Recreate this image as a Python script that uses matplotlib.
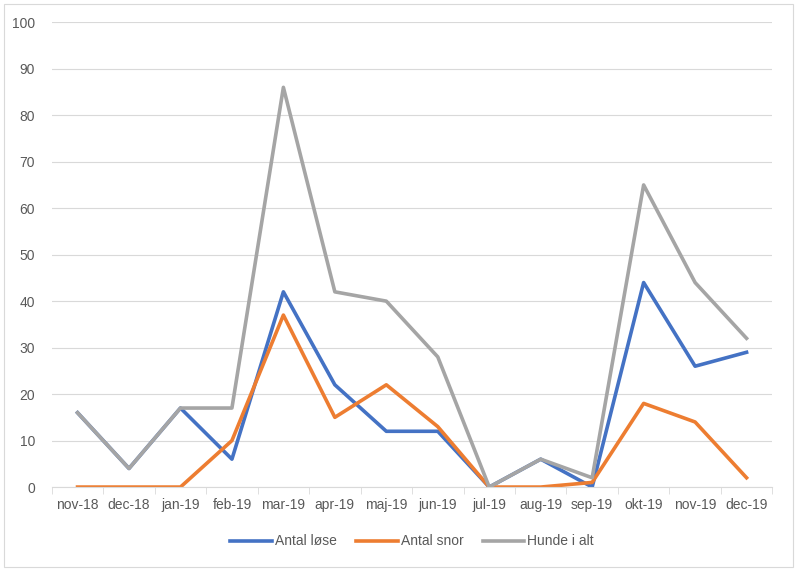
import numpy as np
import matplotlib.pyplot as plt

# Monthly counts
months = ["nov-18", "dec-18", "jan-19", "feb-19", "mar-19", "apr-19", "maj-19",
          "jun-19", "jul-19", "aug-19", "sep-19", "okt-19", "nov-19", "dec-19"]
antal_lose = [16, 4, 17, 6, 42, 22, 12, 12, 0, 6, 0, 44, 26, 29]
antal_snor = [0, 0, 0, 10, 37, 15, 22, 13, 0, 0, 1, 18, 14, 2]
hunde_i_alt = [16, 4, 17, 17, 86, 42, 40, 28, 0, 6, 2, 65, 44, 32]

plt.rcParams["font.family"] = ["Liberation Sans", "DejaVu Sans"]

fig = plt.figure(figsize=(7.97, 5.71), dpi=100)
ax = fig.add_axes([0.065, 0.147, 0.904, 0.814])

x = np.arange(len(months))
ax.plot(x, antal_lose, color="#4472C4", lw=2.6, label="Antal løse", solid_joinstyle="round")
ax.plot(x, antal_snor, color="#ED7D31", lw=2.6, label="Antal snor", solid_joinstyle="round")
ax.plot(x, hunde_i_alt, color="#A5A5A5", lw=2.6, label="Hunde i alt", solid_joinstyle="round")

ax.set_xlim(-0.5, len(months) - 0.5)
ax.set_ylim(0, 100)
ax.set_yticks(range(0, 101, 10))
ax.yaxis.grid(True, color="#D9D9D9", lw=0.8)
ax.set_axisbelow(True)

ax.set_xticks(x)
ax.set_xticklabels(months)
ax.set_xticks(np.arange(-0.5, len(months)), minor=True)
ax.tick_params(axis="x", which="major", length=0, pad=8, labelsize=10, labelcolor="#595959")
ax.tick_params(axis="x", which="minor", length=5, color="#D9D9D9", direction="out")
ax.tick_params(axis="y", length=0, pad=12, labelsize=10, labelcolor="#595959")

for s in ["top", "right", "left"]:
    ax.spines[s].set_visible(False)
ax.spines["bottom"].set_color("#D9D9D9")

ax.legend(loc="upper center", bbox_to_anchor=(0.5, -0.075), ncol=3, frameon=False,
          fontsize=10, labelcolor="#595959", handlelength=3.0, columnspacing=1.4,
          handletextpad=0.2)

# outer chart border
fig.patches.append(plt.Rectangle((0.005, 0.007), 0.99, 0.986, transform=fig.transFigure,
                                 fill=False, edgecolor="#D9D9D9", lw=0.8))

fig.savefig("out.png", dpi=100)
